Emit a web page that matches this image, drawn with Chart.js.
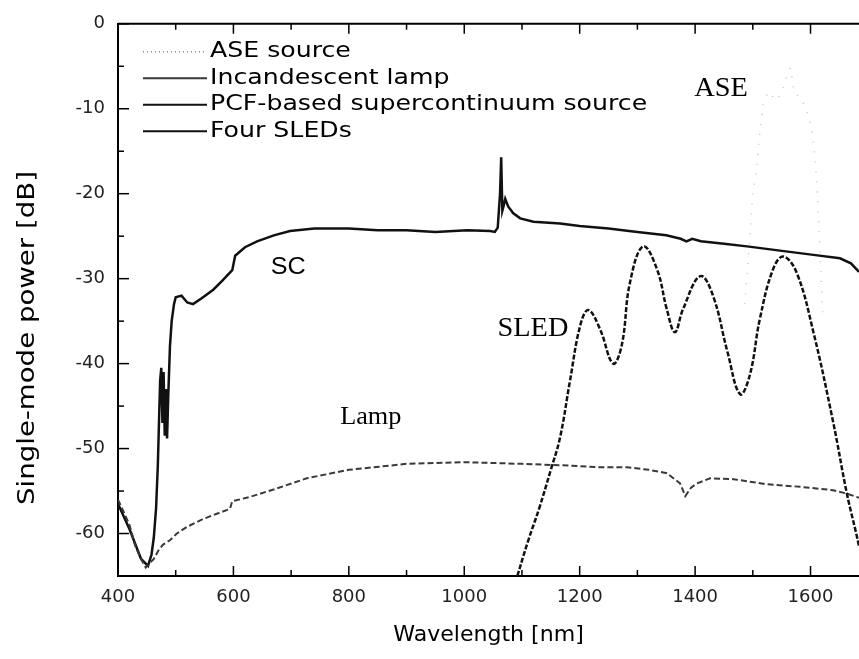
<!DOCTYPE html>
<html>
<head>
<meta charset="utf-8">
<script src="https://cdn.jsdelivr.net/npm/chart.js@4.4.1/dist/chart.umd.min.js"></script>
<style>
  html, body { margin: 0; padding: 0; background: #fff; }
  #wrap { width: 859px; height: 659px; }
</style>
</head>
<body>
<div id="wrap"><canvas id="chart"></canvas></div>
<script>
// series (wavelength in nm, power in dB)
const aseWl = [1486, 1492, 1496, 1500, 1506, 1512, 1518, 1528, 1540, 1550, 1560, 1565, 1572, 1585, 1597, 1605, 1609, 1612, 1614, 1617, 1621];
const aseDb = [-33, -28, -24, -20, -17.5, -13, -9.5, -8, -9, -8, -6, -5.2, -8, -9, -11, -14, -17, -20, -23, -28, -34];

const lampWl = [400, 410, 420, 430, 440, 448, 455, 462, 470, 478, 490, 502, 520, 547, 570, 594, 598, 628, 675, 727, 800, 900, 1000, 1100, 1180, 1235, 1282, 1320, 1351, 1374, 1383, 1393, 1403, 1426, 1466, 1524, 1582, 1639, 1663, 1684];
const lampDb = [-56, -57.5, -59, -61.5, -63, -64, -63.5, -63, -62, -61.3, -60.8, -60, -59.2, -58.3, -57.7, -57.1, -56.2, -55.7, -54.7, -53.5, -52.5, -51.8, -51.6, -51.8, -52, -52.2, -52.2, -52.5, -52.9, -54.1, -55.6, -54.6, -54.1, -53.5, -53.6, -54.2, -54.5, -54.9, -55.3, -55.8];

const scWl = [400, 420, 440, 452, 458, 462, 466, 469, 471, 473, 475, 477, 479, 481, 483, 485, 487, 490, 493, 497, 500, 510, 520, 530, 545, 565, 580, 598, 603, 620, 641, 670, 698, 740, 800, 850, 900, 950, 1005, 1045, 1053, 1058, 1062, 1064, 1066, 1068, 1071, 1076, 1085, 1097, 1120, 1166, 1200, 1250, 1300, 1350, 1375, 1385, 1395, 1410, 1450, 1490, 1547, 1605, 1651, 1670, 1684];
const scDb = [-56.5, -59.5, -63, -63.8, -62.5, -60.5, -57, -52, -47, -42, -40.5, -47, -41, -48.5, -43, -48.8, -44, -38, -35, -33, -32.2, -32, -32.8, -33, -32.3, -31.3, -30.3, -29, -27.3, -26.3, -25.6, -24.9, -24.4, -24.1, -24.1, -24.3, -24.3, -24.5, -24.3, -24.4, -24.5, -24, -20, -15.7, -22, -21.5, -20.6, -21.5, -22.3, -22.9, -23.3, -23.5, -23.8, -24.1, -24.5, -24.9, -25.3, -25.6, -25.3, -25.6, -25.9, -26.2, -26.7, -27.2, -27.6, -28.2, -29.2];

const sledWl = [1092, 1110, 1130, 1150, 1166, 1183, 1201, 1215, 1235, 1258, 1273, 1287, 1310, 1334, 1351, 1365, 1379, 1409, 1431, 1456, 1478, 1495, 1512, 1535, 1553, 1576, 1605, 1639, 1663, 1684, 1692];
const sledDb = [-65, -61, -57, -52.5, -48.7, -42.1, -35.5, -33.7, -35.9, -40, -37.8, -30.5, -26.2, -28.9, -33.6, -36.3, -33.6, -29.7, -32, -38.6, -43.6, -41.3, -34.8, -28.9, -27.4, -29.3, -36.3, -46.8, -55.3, -61.5, -65];

const seriesNames = ['ASE source', 'Incandescent lamp', 'PCF-based supercontinuum source', 'Four SLEDs'];
const xMajor = 200;
const yMajor = 10;

const pts = (xs, ys) => xs.map((v, i) => ({x: v, y: ys[i]}));

// text helper, text in the figure is drawn a bit wide
function wideText(ctx, txt, x, y, font, sx, align) {
    ctx.save();
    ctx.font = font;
    ctx.textBaseline = 'middle';
    ctx.textAlign = align || 'left';
    ctx.translate(x, y);
    ctx.scale(sx, 1);
    ctx.fillText(txt, 0, 0);
    ctx.restore();
}

const framePlugin = {
    id: 'frame',
    afterDraw(chart) {
        const ctx = chart.ctx;
        const a = chart.chartArea;
        const x = chart.scales.x;
        const y = chart.scales.y;
        ctx.save();
        ctx.strokeStyle = '#000';
        ctx.lineWidth = 2;
        ctx.beginPath();
        ctx.moveTo(a.left, a.top);
        ctx.lineTo(a.right, a.top);
        ctx.stroke();

        // inward ticks
        ctx.lineWidth = 1.5;
        x.ticks.forEach(t => {
            const px = x.getPixelForValue(t.value);
            const len = t.value % xMajor === 0 ? 10 : 6;
            ctx.beginPath();
            ctx.moveTo(px, a.bottom);
            ctx.lineTo(px, a.bottom - len);
            ctx.moveTo(px, a.top);
            ctx.lineTo(px, a.top + len);
            ctx.stroke();
        });
        y.ticks.forEach(t => {
            const py = y.getPixelForValue(t.value);
            const len = t.value % yMajor === 0 ? 11 : 6;
            ctx.beginPath();
            ctx.moveTo(a.left, py);
            ctx.lineTo(a.left + len, py);
            ctx.stroke();
        });

        // legend in the upper left of the plot
        ctx.fillStyle = '#000';
        chart.data.datasets.forEach((ds, i) => {
            const ly = a.top + 28 + i * 26.5;
            ctx.strokeStyle = i === 0 ? '#888' : ds.borderColor;
            ctx.lineWidth = i === 0 ? 1.5 : 2;
            ctx.setLineDash(i === 0 ? [1, 3] : []);
            ctx.beginPath();
            ctx.moveTo(a.left + 25, ly);
            ctx.lineTo(a.left + 89, ly);
            ctx.stroke();
            ctx.setLineDash([]);
            wideText(ctx, ds.label, a.left + 92, ly, '21px "DejaVu Sans"', 1.2);
        });

        // curve labels
        const lbl = (txt, wl, db, font) => {
            wideText(ctx, txt, x.getPixelForValue(wl), y.getPixelForValue(db), font, 1.05, 'center');
        };
        lbl('SC', 695, -28.7, '24px "Liberation Sans"');
        lbl('SLED', 1119, -35.9, '27px "Liberation Serif"');
        lbl('ASE', 1445, -7.7, '27px "Liberation Serif"');
        lbl('Lamp', 838, -46.3, '25px "Liberation Serif"');

        // axis titles
        wideText(ctx, 'Wavelength [nm]', (a.left + a.right) / 2, 636, '21px "DejaVu Sans"', 1.05, 'center');
        ctx.save();
        ctx.translate(28, 338);
        ctx.rotate(-Math.PI / 2);
        wideText(ctx, 'Single-mode power [dB]', 0, 0, '23px "DejaVu Sans"', 1.2, 'center');
        ctx.restore();
        ctx.restore();
    }
};

const tickFont = {family: 'DejaVu Sans', size: 18};

new Chart(document.getElementById('chart'), {
    type: 'line',
    data: {
        datasets: [
            {label: seriesNames[0], data: pts(aseWl, aseDb), borderColor: '#c4c4c4', borderWidth: 1.5, borderDash: [1, 9], pointRadius: 0, tension: 0.2},
            {label: seriesNames[1], data: pts(lampWl, lampDb), borderColor: '#3a3a3a', borderWidth: 2, borderDash: [6, 3], pointRadius: 0, tension: 0},
            {label: seriesNames[2], data: pts(scWl, scDb), borderColor: '#111', borderWidth: 2.5, pointRadius: 0, tension: 0},
            {label: seriesNames[3], data: pts(sledWl, sledDb), borderColor: '#111', borderWidth: 2.5, borderDash: [5, 2], pointRadius: 0, tension: 0.4}
        ]
    },
    options: {
        responsive: true,
        maintainAspectRatio: false,
        animation: false,
        layout: {padding: {top: 18, right: 0, left: 0, bottom: 0}},
        plugins: {legend: {display: false}, tooltip: {enabled: false}},
        scales: {
            x: {
                type: 'linear',
                min: 400,
                max: 1684,
                grid: {display: false, drawTicks: false},
                border: {display: true, color: '#000', width: 2},
                ticks: {
                    stepSize: 100,
                    includeBounds: false,
                    autoSkip: false,
                    maxRotation: 0,
                    padding: 11,
                    color: '#222',
                    font: tickFont,
                    callback: v => (v % xMajor === 0 ? String(v) : '')
                },
                afterFit: s => { s.height = 83; }
            },
            y: {
                min: -65,
                max: 0,
                grid: {display: false, drawTicks: false},
                border: {display: true, color: '#000', width: 2},
                ticks: {
                    stepSize: 5,
                    autoSkip: false,
                    padding: 13,
                    color: '#222',
                    font: tickFont,
                    callback: v => (v % yMajor === 0 ? String(v) : '')
                },
                afterFit: s => { s.width = 118; }
            }
        }
    },
    plugins: [framePlugin]
});
</script>
</body>
</html>
